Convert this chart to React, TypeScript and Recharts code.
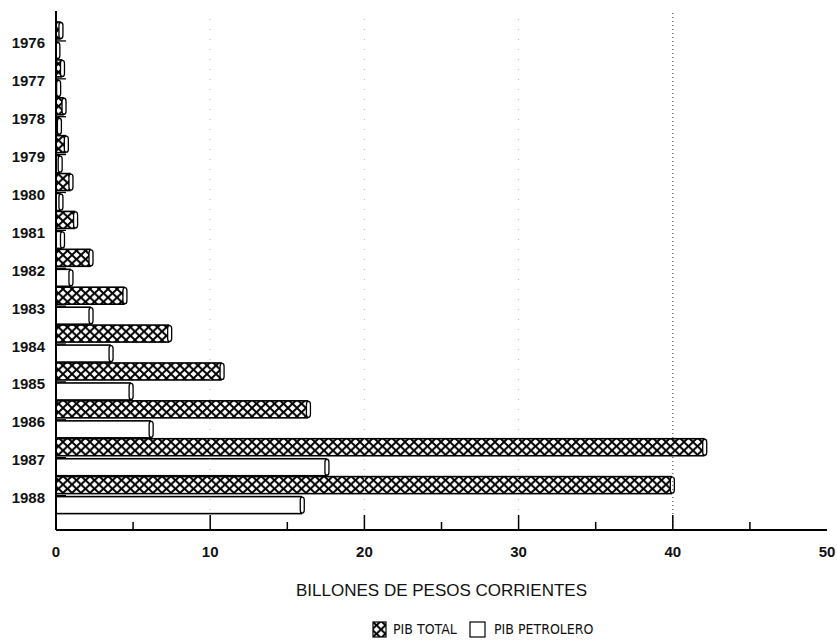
import React from "react";
import {
  BarChart,
  Bar,
  XAxis,
  YAxis,
  ReferenceLine,
} from "recharts";

const years = ["1976", "1977", "1978", "1979", "1980", "1981", "1982", "1983", "1984", "1985", "1986", "1987", "1988"];
const pibTotal = [0.45, 0.55, 0.65, 0.8, 1.1, 1.4, 2.4, 4.6, 7.5, 10.9, 16.5, 42.2, 40.1];
const pibPetrolero = [0.25, 0.3, 0.35, 0.4, 0.45, 0.55, 1.1, 2.4, 3.7, 5.0, 6.3, 17.7, 16.1];
const xTicks = [0, 5, 10, 15, 20, 25, 30, 35, 40, 45, 50];

const data = years.map((year, i) => ({
  year,
  total: pibTotal[i],
  petrolero: pibPetrolero[i],
}));

const font = "'Liberation Sans', Arial, Helvetica, sans-serif";
const narrow = "'Liberation Sans Narrow', 'DejaVu Sans Condensed', 'Liberation Sans', Arial, sans-serif";

// bar with a small rounded end cap, like the old 3D plotter bars
function Bar3D(props: any) {
  const { x, y, width, height, fill } = props;
  if (width == null || width <= 0) return null;
  const cap = Math.min(4, width);
  const body = Math.max(width - cap + 1, 0.5);
  return (
    <g>
      <rect x={x} y={y} width={body} height={height} fill={fill} stroke="#000" strokeWidth={1.6} />
      <rect
        x={x + width - cap}
        y={y + 0.5}
        width={cap}
        height={height - 1}
        rx={2}
        ry={3}
        fill="#fff"
        stroke="#000"
        strokeWidth={1.3}
      />
    </g>
  );
}

function YearTick(props: any) {
  const { x, y, payload } = props;
  return (
    <g>
      <line x1={x} y1={y} x2={x + 10} y2={y} stroke="#000" strokeWidth={1.3} />
      <text
        x={x - 11}
        y={y + 2}
        textAnchor="end"
        dominantBaseline="central"
        fontFamily={font}
        fontWeight="bold"
        fontSize={15}
        fill="#111"
      >
        {payload.value}
      </text>
    </g>
  );
}

function ValueTick(props: any) {
  const { x, y, payload } = props;
  const v = payload.value as number;
  const major = v % 10 === 0;
  return (
    <g>
      {v > 0 && v < 50 && (
        <line x1={x} y1={y} x2={x} y2={y - (major ? 15 : 8)} stroke="#000" strokeWidth={1.5} />
      )}
      {major && (
        <text
          x={x}
          y={y + 21}
          textAnchor="middle"
          dominantBaseline="central"
          fontFamily={font}
          fontWeight="bold"
          fontSize={15}
          fill="#111"
        >
          {v}
        </text>
      )}
    </g>
  );
}

function AxisTitle(props: any) {
  const { viewBox } = props;
  if (!viewBox) return null;
  return (
    <text
      x={viewBox.x + viewBox.width / 2}
      y={590}
      textAnchor="middle"
      dominantBaseline="central"
      fontFamily={font}
      fontSize={17}
      fill="#111"
    >
      BILLONES DE PESOS CORRIENTES
    </text>
  );
}

const legendText: React.CSSProperties = {
  position: "absolute",
  top: 621,
  fontFamily: narrow,
  fontSize: 14,
  lineHeight: "17px",
  color: "#111",
  whiteSpace: "nowrap",
};

export default function App() {
  return (
    <div style={{ position: "relative", width: 837, height: 643, background: "#fff" }}>
      <style>{"body{margin:0}"}</style>
      <BarChart
        width={837}
        height={643}
        data={data}
        layout="vertical"
        margin={{ top: 11, right: 10, bottom: 0, left: 0 }}
        barSize={17}
        barGap={3}
      >
        <defs>
          <pattern id="cross" patternUnits="userSpaceOnUse" width={9} height={8.5}>
            <rect width={9} height={8.5} fill="#fff" />
            <path d="M0,0 L9,8.5 M9,0 L0,8.5" stroke="#000" strokeWidth={1.9} />
          </pattern>
        </defs>
        <XAxis
          type="number"
          domain={[0, 50]}
          ticks={xTicks}
          interval={0}
          height={113}
          tickSize={0}
          tickMargin={0}
          tickLine={false}
          tick={<ValueTick />}
          axisLine={{ stroke: "#000", strokeWidth: 2 }}
          label={<AxisTitle />}
        />
        <XAxis
          xAxisId="top"
          orientation="top"
          type="number"
          domain={[0, 50]}
          height={0}
          tick={false}
          tickLine={false}
          axisLine={{ stroke: "#000", strokeWidth: 2 }}
        />
        <YAxis
          type="category"
          dataKey="year"
          width={56}
          interval={0}
          padding={{ top: 11, bottom: 15.5 }}
          tickSize={0}
          tickMargin={0}
          tickLine={false}
          tick={<YearTick />}
          axisLine={{ stroke: "#000", strokeWidth: 2 }}
        />
        <YAxis
          yAxisId="right"
          orientation="right"
          type="category"
          dataKey="year"
          width={0}
          tick={false}
          tickLine={false}
          axisLine={{ stroke: "#000", strokeWidth: 2 }}
        />
        <ReferenceLine x={10} stroke="#bbb" strokeDasharray="1 9" />
        <ReferenceLine x={20} stroke="#bbb" strokeDasharray="1 9" />
        <ReferenceLine x={30} stroke="#bbb" strokeDasharray="1 9" />
        <ReferenceLine x={40} stroke="#555" strokeDasharray="1 3" strokeWidth={1.2} />
        <Bar dataKey="total" name="PIB TOTAL" fill="url(#cross)" shape={<Bar3D />} isAnimationActive={false} />
        <Bar dataKey="petrolero" name="PIB PETROLERO" fill="#fff" shape={<Bar3D />} isAnimationActive={false} />
      </BarChart>
      <svg width={16} height={17} style={{ position: "absolute", left: 372, top: 621 }}>
        <rect x={1} y={1} width={13} height={15} fill="url(#cross)" stroke="#000" strokeWidth={1.2} />
      </svg>
      <span style={{ ...legendText, left: 393 }}>PIB TOTAL</span>
      <svg width={17} height={17} style={{ position: "absolute", left: 469, top: 621 }}>
        <rect x={1} y={1} width={15} height={15} fill="#fff" stroke="#000" strokeWidth={1.2} />
      </svg>
      <span style={{ ...legendText, left: 494 }}>PIB PETROLERO</span>
    </div>
  );
}
